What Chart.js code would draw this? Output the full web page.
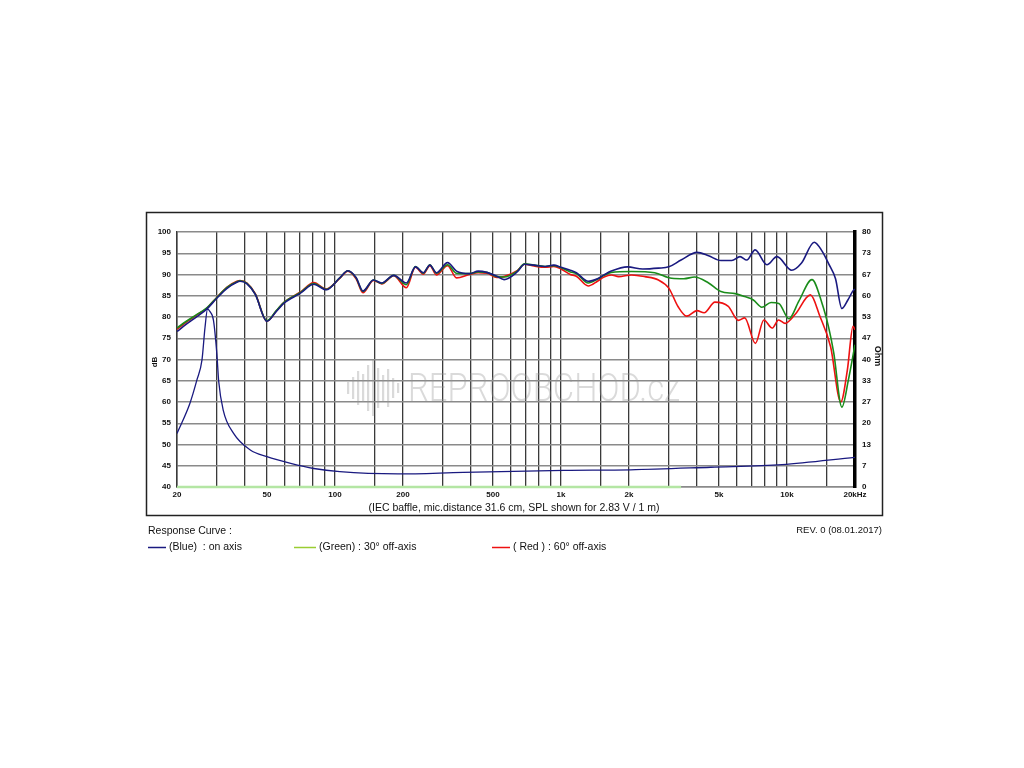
<!DOCTYPE html>
<html>
<head>
<meta charset="utf-8">
<script src="https://cdn.jsdelivr.net/npm/chart.js@4.4.1/dist/chart.umd.min.js"></script>
<style>html,body{margin:0;padding:0;background:#fff}canvas{display:block}</style>
</head>
<body>
<canvas id="c" width="1024" height="768"></canvas>
<script>
// ---- data (Hz, dB SPL, Ohm) ----
const freqLow = [20, 22, 24.5, 27, 30, 33.2, 36.8, 38, 40.8, 44.4, 50, 55, 59.3, 70.4, 80.6, 91.5, 105, 114, 124, 133, 148, 161, 182, 207, 227, 246, 263, 281, 315, 345, 394, 430, 470, 520, 560, 640, 690, 760, 850, 930, 1000, 1100, 1170, 1320, 1450, 1550, 1670];
const splBlueLow = [76.6, 78.3, 80.1, 81.8, 84.4, 86.7, 88.2, 88.4, 87.8, 85.3, 79.0, 81.3, 83.2, 85.6, 87.7, 86.4, 89.2, 90.9, 89.3, 86.1, 88.7, 88.0, 89.8, 88.0, 91.8, 90.4, 92.2, 90.4, 92.8, 90.8, 90.2, 90.8, 90.5, 89.6, 88.8, 90.6, 92.4, 92.2, 91.9, 92.2, 91.7, 91.0, 90.4, 88.4, 89.0, 89.9, 90.8];
const splGreenLow = [77.4, 79.0, 80.6, 82.1, 84.6, 86.9, 88.3, 88.5, 87.9, 85.4, 79.1, 81.5, 83.4, 85.8, 87.9, 86.5, 89.2, 90.9, 89.2, 86.0, 88.7, 87.9, 89.8, 87.6, 91.9, 90.3, 92.3, 90.3, 92.3, 90.3, 90.2, 90.6, 90.5, 89.5, 89.4, 90.8, 92.5, 92.2, 91.9, 92.1, 91.6, 90.6, 90.2, 88.0, 88.9, 89.8, 90.5];
const splRedLow = [77.1, 78.8, 80.5, 82.0, 84.6, 87.0, 88.4, 88.6, 88.0, 85.5, 79.0, 81.4, 83.4, 85.9, 88.1, 86.6, 89.1, 90.8, 89.0, 85.7, 88.6, 87.8, 89.7, 86.9, 91.7, 90.1, 92.1, 89.9, 92.1, 89.2, 90.0, 90.4, 90.3, 89.3, 89.5, 90.9, 92.4, 92.0, 91.7, 91.9, 91.3, 90.0, 89.6, 87.3, 88.4, 89.4, 89.9];

const freqBlueHigh = [1970, 2300, 2700, 3000, 3400, 4000, 4500, 5100, 5700, 6200, 6640, 7230, 8150, 9030, 10500, 11600, 13200, 14300, 15300, 16400, 17500, 18600, 19760, 20000];
const splBlueHigh = [91.8, 91.3, 91.5, 91.8, 93.4, 95.2, 94.4, 93.3, 93.3, 94.2, 93.4, 95.8, 92.3, 94.2, 91.0, 92.7, 97.6, 95.5, 92.5, 89.0, 82.0, 84.0, 86.4, 86.5];

const freqGreenHigh = [2050, 2600, 3090, 3500, 3900, 4500, 5100, 5900, 6500, 7100, 7740, 8500, 9200, 10200, 11300, 12900, 14300, 15300, 16100, 17500, 18700, 20000];
const splGreenHigh = [90.7, 90.4, 89.1, 89.0, 89.4, 88.0, 86.0, 85.5, 84.8, 84.0, 82.3, 83.4, 83.2, 79.6, 83.8, 88.8, 83.2, 77.5, 71.6, 58.8, 65.2, 73.5];

const freqRedHigh = [1800, 2050, 2350, 2700, 3000, 3300, 3600, 4000, 4300, 4800, 5500, 6100, 6500, 7250, 7900, 8600, 9180, 9820, 10900, 12700, 14000, 15600, 17300, 18500, 19600, 20000];
const splRedHigh = [89.5, 89.9, 89.5, 88.7, 86.8, 82.4, 80.2, 81.5, 81.0, 83.5, 82.5, 79.2, 79.8, 73.8, 79.3, 77.4, 79.3, 78.5, 80.7, 85.2, 80.1, 73.0, 60.0, 67.5, 77.8, 77.0];

const freqImp = [20, 22.8, 24.5, 25.8, 26.6, 27.3, 28.0, 29.0, 30.0, 30.6, 32.0, 35.6, 42.2, 50, 63.7, 80.6, 105, 190, 370, 1030, 2030, 4600, 9500, 20000];
const impOhm = [16.8, 26.2, 33.6, 39.9, 50.0, 55.8, 55.0, 52.3, 42.0, 33.0, 24.2, 16.8, 11.6, 9.5, 7.4, 5.8, 4.8, 4.1, 4.6, 5.2, 5.4, 6.2, 7.0, 9.3];

const baselineFreq = [20, 3400];
const baselineDb = [40, 40];

// ---- axes ----
const gridFreqs = [20, 30, 40, 50, 60, 70, 80, 90, 100, 150, 200, 300, 400, 500, 600, 700, 800, 900, 1000, 1500, 2000, 3000, 4000, 5000, 6000, 7000, 8000, 9000, 10000, 15000, 20000];
const xTickLabels = {20: '20', 50: '50', 100: '100', 200: '200', 500: '500', 1000: '1k', 2000: '2k', 5000: '5k', 10000: '10k', 20000: '20kHz'};
const ohmTickLabels = ['0', '7', '13', '20', '27', '33', '40', '47', '53', '60', '67', '73', '80'];

const legendItems = [
  {label: '(Blue)  : on axis', color: '#1a1a80'},
  {label: '(Green) : 30\u00b0 off-axis', color: '#9acd32'},
  {label: '( Red ) : 60\u00b0 off-axis', color: '#ee1111'}
];

function pts(f, v) { return f.map((x, i) => ({x: x, y: v[i]})); }

const FONT = '"Liberation Sans", Arial, sans-serif';

const deco = {
  id: 'deco',
  beforeDraw(chart) {
    const ctx = chart.ctx;
    ctx.save();
    ctx.fillStyle = '#fff';
    ctx.fillRect(0, 0, chart.width, chart.height);
    ctx.restore();
  },
  beforeDatasetsDraw(chart) {
    const ctx = chart.ctx;
    ctx.save();
    ctx.fillStyle = 'rgba(150,150,150,0.35)';
    const bars = [12, 22, 34, 28, 46, 56, 40, 26, 38, 20, 10];
    bars.forEach((h, i) => ctx.fillRect(347 + i * 5, 388 - h / 2, 2.2, h));
    ctx.font = '300 38px Roboto';
    ctx.textBaseline = 'alphabetic';
    const t = 'REPROOBCHOD.cz';
    const w = ctx.measureText(t).width;
    ctx.translate(408, 401);
    ctx.scale(272 / w, 1);
    ctx.fillText(t, 0, 0);
    ctx.restore();
  },
  afterDraw(chart) {
    const ctx = chart.ctx;
    ctx.save();
    // outer frame
    ctx.strokeStyle = '#222';
    ctx.lineWidth = 1.5;
    ctx.strokeRect(146.5, 212.5, 736, 303);
    // axis titles
    ctx.fillStyle = '#111';
    ctx.font = 'bold 8px ' + FONT;
    ctx.textAlign = 'center';
    ctx.textBaseline = 'middle';
    ctx.save();
    ctx.translate(155, 362);
    ctx.rotate(-Math.PI / 2);
    ctx.fillText('dB', 0, 0);
    ctx.restore();
    ctx.save();
    ctx.font = 'bold 9px ' + FONT;
    ctx.translate(877, 356);
    ctx.rotate(Math.PI / 2);
    ctx.fillText('Ohm', 0, 0);
    ctx.restore();
    // caption
    ctx.font = '10.5px ' + FONT;
    ctx.fillText('(IEC baffle, mic.distance 31.6 cm, SPL shown for 2.83 V / 1 m)', 514, 508);
    // legend
    ctx.textAlign = 'left';
    ctx.fillText('Response Curve :', 148, 531);
    const lx = [148, 294, 492];
    const ll = [18, 22, 18];
    legendItems.forEach((it, i) => {
      ctx.strokeStyle = it.color;
      ctx.lineWidth = 1.5;
      ctx.beginPath();
      ctx.moveTo(lx[i], 547.5);
      ctx.lineTo(lx[i] + ll[i], 547.5);
      ctx.stroke();
      ctx.fillStyle = '#111';
      ctx.fillText(it.label, lx[i] + ll[i] + 3, 547.5);
    });
    ctx.textAlign = 'right';
    ctx.font = '9.5px ' + FONT;
    ctx.fillText('REV. 0 (08.01.2017)', 882, 530);
    ctx.restore();
  }
};

new Chart(document.getElementById('c'), {
  type: 'line',
  data: {
    datasets: [
      {label: 'Blue : on axis', data: pts(freqLow, splBlueLow).concat(pts(freqBlueHigh, splBlueHigh)), borderColor: '#1a1a80', yAxisID: 'y'},
      {label: 'Green : 30° off-axis', data: pts(freqLow, splGreenLow).concat(pts(freqGreenHigh, splGreenHigh)), borderColor: '#1a8c1a', yAxisID: 'y'},
      {label: 'Red : 60° off-axis', data: pts(freqLow, splRedLow).concat(pts(freqRedHigh, splRedHigh)), borderColor: '#ee1111', yAxisID: 'y'},
      {label: 'Impedance', data: pts(freqImp, impOhm), borderColor: '#1a1a80', borderWidth: 1.3, yAxisID: 'y2'},
      {label: 'baseline', data: pts(baselineFreq, baselineDb), borderColor: '#b4e6a4', borderWidth: 2.5, yAxisID: 'y', clip: false, cubicInterpolationMode: 'default', tension: 0}
    ]
  },
  options: {
    responsive: false,
    animation: false,
    devicePixelRatio: 1,
    layout: {padding: {top: 232, left: 0, right: 0, bottom: 0}},
    plugins: {legend: {display: false}, tooltip: {enabled: false}},
    elements: {point: {radius: 0}, line: {borderWidth: 1.6, cubicInterpolationMode: 'monotone'}},
    scales: {
      x: {
        type: 'logarithmic', min: 20, max: 20000,
        afterBuildTicks: s => { s.ticks = gridFreqs.map(v => ({value: v})); },
        afterFit: s => { s.height = 768 - 487; },
        ticks: {
          autoSkip: false, maxRotation: 0, padding: 3, color: '#111',
          font: {family: FONT, size: 8, weight: 'bold'},
          callback: v => (xTickLabels[v] !== undefined ? xTickLabels[v] : '')
        },
        grid: {color: '#3a3a3a', lineWidth: 1.3, drawTicks: false},
        border: {color: '#8a8a8a', width: 1.5}
      },
      y: {
        type: 'linear', position: 'left', min: 40, max: 100,
        afterFit: s => { s.width = 177; },
        ticks: {stepSize: 5, padding: 6, color: '#111', font: {family: FONT, size: 8, weight: 'bold'}},
        grid: {color: '#8a8a8a', lineWidth: 1.5, drawTicks: false},
        border: {color: '#3a3a3a', width: 1.5}
      },
      y2: {
        type: 'linear', position: 'right', min: 0, max: 80,
        afterBuildTicks: s => { s.ticks = ohmTickLabels.map((_, i) => ({value: i * 80 / 12})); },
        afterFit: s => { s.width = 1024 - 855; },
        ticks: {padding: 7, color: '#111', font: {family: FONT, size: 8, weight: 'bold'},
          callback: (v, i) => ohmTickLabels[i]},
        grid: {drawOnChartArea: false, drawTicks: false},
        border: {color: '#000', width: 3.5}
      }
    }
  },
  plugins: [deco]
});
</script>
</body>
</html>
